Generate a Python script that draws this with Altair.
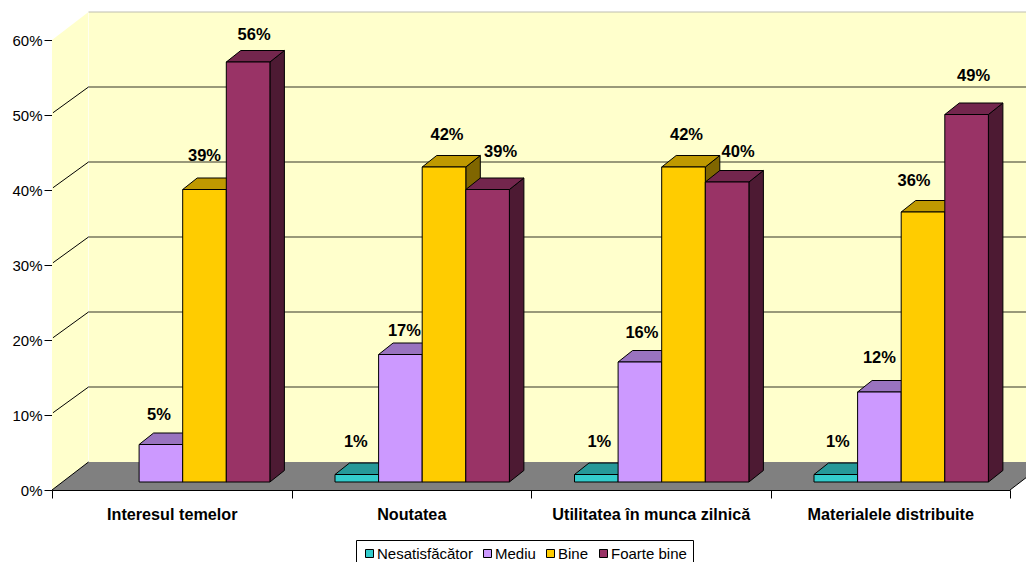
import altair as alt

CATEGORIES = ["Interesul temelor", "Noutatea", "Utilitatea în munca zilnică", "Materialele distribuite"]
SERIES = ["Nesatisfăcător", "Mediu", "Bine", "Foarte bine"]
NESATISFACATOR = [0, 1, 1, 1]
MEDIU = [5, 17, 16, 12]
BINE = [39, 42, 42, 36]
FOARTE_BINE = [56, 39, 40, 49]
VALUES = [NESATISFACATOR, MEDIU, BINE, FOARTE_BINE]
TICKS = [0, 10, 20, 30, 40, 50, 60]

FRONT = ["#33CCCC", "#CC99FF", "#FFCC00", "#993366"]
TOP = ["#269999", "#9973BF", "#BF9900", "#73264D"]
SIDE = ["#1A6666", "#664D80", "#806600", "#4D1A33"]

# hand-placed label nudges (px), per category then series
LABEL_DX = [[0, -2, 0, 6], [-1, 4, 3, 13], [3, 2, 3, 11], [2, 0, -9, 7]]
LABEL_DY = [[0, -29.5, -33.5, -27], [-32.5, -23.5, -32, -37.5], [-32.5, -29, -32, -30], [-32.5, -34, -31, -38.5]]

W, H = 958, 450
PX_U = W / 4
PX_V = H / 60
WALL_U, WALL_V = 36.5 / PX_U, 28 / PX_V
DEPTH_U, DEPTH_V = 14.5 / PX_U, 11.5 / PX_V
BASE_U, BASE_V = 11 / PX_U, 8 / PX_V
BAR_W = 43.6 / PX_U
GAP_U = 32.5 / PX_U

FONT = "Liberation Sans"
xs = alt.Scale(domain=[0, 4], nice=False, zero=False)
ys = alt.Scale(domain=[0, 60], nice=False, zero=False)
X = alt.X("x:Q", scale=xs, axis=None)
X2 = alt.X2("x2:Q")
Y_AXIS = alt.Axis(
    values=TICKS, labelExpr="datum.value + '%'", title=None, grid=False,
    tickSize=8, tickColor="#000000", domainColor="#000000",
    labelFont=FONT, labelFontSize=15, labelColor="#000000", labelPadding=2,
)
Y = alt.Y("y:Q", scale=ys, axis=Y_AXIS)
Y2 = alt.Y2("y2:Q")


def df(rows):
    return alt.Data(values=rows)


layers = []

# side wall
layers.append(alt.Chart(df([
    {"x": 0, "y": 0, "y2": 60},
    {"x": WALL_U, "y": WALL_V, "y2": 60 + WALL_V},
])).mark_area(orient="vertical", fill="#FFFFCC").encode(x=X, y=Y, y2=Y2))

# back wall
layers.append(alt.Chart(df([{"x": WALL_U, "x2": 4 + WALL_U, "y": WALL_V, "y2": 60 + WALL_V}]))
              .mark_rect(fill="#FFFFCC").encode(x=X, x2=X2, y=Y, y2=Y2))

# pale edges of the wall
layers.append(alt.Chart(df([{"x": WALL_U, "y": WALL_V, "y2": 60 + WALL_V}]))
              .mark_rule(color="#FFFFEE", strokeWidth=1).encode(x=X, y=Y, y2=Y2))
layers.append(alt.Chart(df([{"x": WALL_U, "x2": 4 + WALL_U, "y": 60 + WALL_V}]))
              .mark_rule(color="#BEBEB0", strokeWidth=1).encode(x=X, x2=X2, y=Y))

# grid lines on the back wall
layers.append(alt.Chart(df([{"x": WALL_U, "x2": 4 + WALL_U, "y": t + WALL_V} for t in TICKS[1:-1]]))
              .mark_rule(color="#77775E", strokeWidth=1.6).encode(x=X, x2=X2, y=Y))

# floor
layers.append(alt.Chart(df([
    {"x": 0, "x2": 4, "y": 0},
    {"x": WALL_U, "x2": 4 + WALL_U, "y": WALL_V},
])).mark_area(orient="horizontal", fill="#808080").encode(x=X, x2=X2, y=Y))

# diagonal ticks on the side wall
diag = []
for t in TICKS[:-1]:
    diag.append({"x": 0.004 if t else 0, "y": t + (0.3 if t else 0), "t": t})
    diag.append({"x": WALL_U, "y": t + WALL_V, "t": t})
layers.append(alt.Chart(df(diag)).mark_line(color="#000000", strokeWidth=1)
              .encode(x=X, y=Y, detail="t:N"))
layers.append(alt.Chart(df([{"x": 4, "y": 0, "t": 0}, {"x": 4 + WALL_U, "y": WALL_V, "t": 0}]))
              .mark_line(color="#000000", strokeWidth=1).encode(x=X, y=Y, detail="t:N"))

# bars
fronts = []
labels = []
for s, name in enumerate(SERIES):
    sides, tops = [], []
    for c, cat in enumerate(CATEGORIES):
        val = VALUES[s][c]
        if val == 0:
            continue
        x0 = c + GAP_U + BASE_U + s * BAR_W
        x1 = x0 + BAR_W
        lo, hi = BASE_V, BASE_V + val
        fronts.append({"x": x0, "x2": x1, "y": lo, "y2": hi, "series": name})
        sides += [
            {"x": x1, "y": lo, "y2": hi, "k": c},
            {"x": x1 + DEPTH_U, "y": lo + DEPTH_V, "y2": hi + DEPTH_V, "k": c},
        ]
        tops += [
            {"x": x0, "x2": x1, "y": hi, "k": c},
            {"x": x0 + DEPTH_U, "x2": x1 + DEPTH_U, "y": hi + DEPTH_V, "k": c},
        ]
        labels.append({
            "x": (x0 + x1) / 2 + LABEL_DX[c][s] / PX_U,
            "y": hi - LABEL_DY[c][s] / PX_V,
            "text": f"{val}%",
        })
    layers.append(alt.Chart(df(sides)).mark_area(
        orient="vertical", fill=SIDE[s], stroke="#000000", strokeWidth=1
    ).encode(x=X, y=Y, y2=Y2, detail="k:N"))
    layers.append(alt.Chart(df(tops)).mark_area(
        orient="horizontal", fill=TOP[s], stroke="#000000", strokeWidth=1
    ).encode(x=X, x2=X2, y=Y, detail="k:N"))

layers.append(alt.Chart(df(fronts)).mark_rect(stroke="#000000", strokeWidth=1, opacity=1).encode(
    x=X, x2=X2, y=Y, y2=Y2,
    color=alt.Color("series:N", scale=alt.Scale(domain=SERIES, range=FRONT), legend=alt.Legend(
        title=None, orient="none", legendX=304, legendY=500, direction="horizontal", columns=4,
        symbolType="square", symbolSize=64, symbolStrokeColor="#000000", symbolStrokeWidth=1,
        labelFont=FONT, labelFontSize=15, labelColor="#000000", labelOffset=0,
        columnPadding=7, padding=6, fillColor="#FFFFFF", strokeColor="#000000",
        labelLimit=200, gridAlign="none",
    )),
))

# value labels
layers.append(alt.Chart(df(labels)).mark_text(
    font=FONT, fontSize=16.5, fontWeight="bold", color="#000000", baseline="middle", align="center"
).encode(x=X, y=Y, text="text:N"))

numeric = alt.layer(*layers)

# category axis with ticks at band edges
cat_axis = alt.Chart(df([{"c": c} for c in CATEGORIES])).mark_rule(opacity=0).encode(
    x=alt.X("c:N", sort=None, scale=alt.Scale(type="band", domain=CATEGORIES, paddingInner=0, paddingOuter=0),
            axis=alt.Axis(
                title=None, tickBand="extent", labelAngle=0, tickSize=8, tickColor="#000000",
                domainColor="#000000", labelFont=FONT, labelFontSize=16.2, labelFontWeight="bold",
                labelColor="#000000", labelPadding=8, labelLimit=300, labelOverlap=False,
            ))
)

chart = alt.layer(numeric, cat_axis).resolve_scale(x="independent").properties(
    width=W, height=H,
    padding={"left": 44, "top": 32, "right": 16, "bottom": 72},
    autosize=alt.AutoSizeParams(type="none"),
    background="#FFFFFF",
).configure_view(stroke=None)

chart.save("out.html", embed_options={"renderer": "svg", "actions": False})
